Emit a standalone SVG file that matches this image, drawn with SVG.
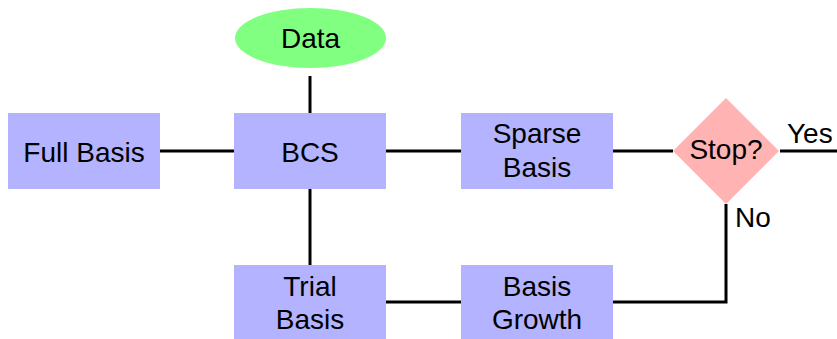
<svg xmlns="http://www.w3.org/2000/svg" width="837" height="339" viewBox="0 0 837 339">
<style>
.box{fill:#b3b3ff;}
.t{font-family:"Liberation Sans",Arial,sans-serif;font-size:28px;fill:#000;text-anchor:middle;}
.l{font-family:"Liberation Sans",Arial,sans-serif;font-size:28px;fill:#000;}
.c{stroke:#000;stroke-width:3;fill:none;}
</style>
<rect width="837" height="339" fill="#fff"/>
<g id="connectors">
<line class="c" x1="310" y1="76" x2="310" y2="113"/>
<line class="c" x1="160" y1="151" x2="234" y2="151"/>
<line class="c" x1="386" y1="151" x2="461" y2="151"/>
<line class="c" x1="613" y1="151" x2="673" y2="151"/>
<line class="c" x1="310" y1="189" x2="310" y2="265"/>
<line class="c" x1="386" y1="302" x2="461" y2="302"/>
<polyline class="c" points="726,204 726,302 613,302"/>
<line class="c" x1="780" y1="151" x2="837" y2="151"/>
<text class="l" x="787" y="143">Yes</text>
<text class="l" x="735" y="227">No</text>
</g>
<g id="data">
<ellipse cx="310.5" cy="38" rx="75.5" ry="30" fill="#80ff80"/>
<text class="t" x="310.5" y="48">Data</text>
</g>
<g id="full-basis">
<rect class="box" x="8" y="113" width="152" height="76"/>
<text class="t" x="84" y="162">Full Basis</text>
</g>
<g id="bcs">
<rect class="box" x="234" y="113" width="152" height="76"/>
<text class="t" x="310" y="162">BCS</text>
</g>
<g id="sparse-basis">
<rect class="box" x="461" y="113" width="152" height="76"/>
<text class="t" x="537" y="143">Sparse</text>
<text class="t" x="537" y="177">Basis</text>
</g>
<g id="stop">
<polygon points="726,98 779,151 726,204 673,151" fill="#ffb3b3"/>
<text class="t" x="726" y="159">Stop?</text>
</g>
<g id="trial-basis">
<rect class="box" x="234" y="265" width="152" height="76"/>
<text class="t" x="310" y="296">Trial</text>
<text class="t" x="310" y="329">Basis</text>
</g>
<g id="basis-growth">
<rect class="box" x="461" y="265" width="152" height="76"/>
<text class="t" x="537" y="296">Basis</text>
<text class="t" x="537" y="329">Growth</text>
</g>
</svg>
